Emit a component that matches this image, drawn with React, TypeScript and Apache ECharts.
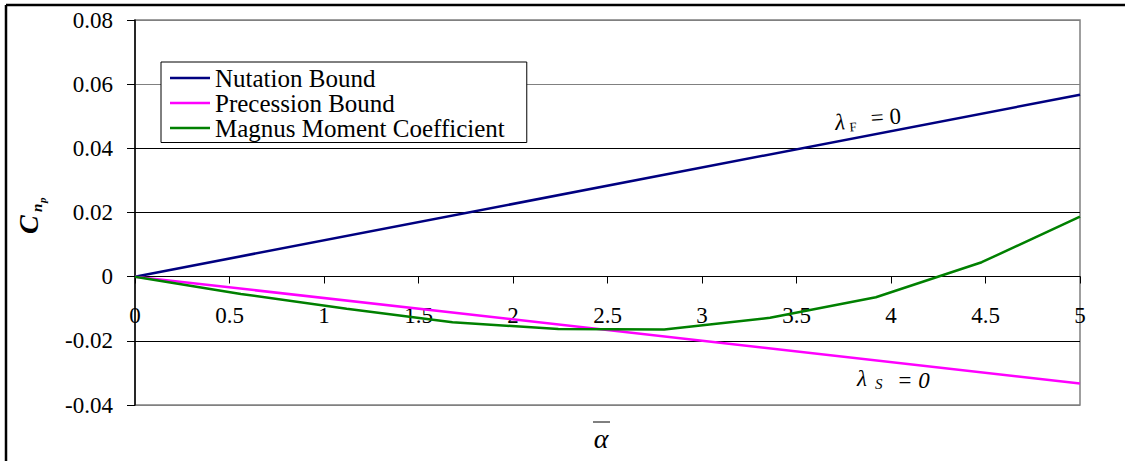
import React, { useEffect, useRef } from "react";
import * as echarts from "echarts";

const alphaMagnus = [0, 0.56, 1.12, 1.68, 2.24, 2.8, 3.36, 3.92, 4.48, 5.0];
const magnusMoment = [0, -0.0054, -0.01, -0.0142, -0.0163, -0.0165, -0.0128, -0.0064, 0.0045, 0.0187];
const alphaBounds = [0, 5];
const nutationBound = [0, 0.0567];
const precessionBound = [0, -0.0333];
const seriesNames = ["Nutation Bound", "Precession Bound", "Magnus Moment Coefficient"];
const seriesColors = ["#000080", "#ff00ff", "#008000"];

const FONT = "Liberation Serif";

const pairs = (xs: number[], ys: number[]) => xs.map((x, i) => [x, ys[i]]);

export default function App() {
  const ref = useRef<HTMLDivElement>(null);
  useEffect(() => {
    if (!ref.current) return;
    const chart = echarts.init(ref.current, undefined, { renderer: "svg" });
    const mk = (i: number, data: number[][]) => ({
      name: seriesNames[i],
      type: "line",
      data,
      symbol: "none",
      showSymbol: false,
      color: seriesColors[i],
      lineStyle: { color: seriesColors[i], width: 2.5 },
    });
    const txt = (text: string, x: number, y: number, size: number, style: string) => ({
      type: "text",
      x,
      y,
      style: {
        text,
        fontFamily: FONT,
        fontSize: size,
        fontStyle: style.includes("italic") ? "italic" : "normal",
        fontWeight: style.includes("bold") ? "bold" : "normal",
        fill: "#000",
        textAlign: "left",
        textVerticalAlign: "middle",
      },
    });
    chart.setOption({
      animation: false,
      backgroundColor: "#fff",
      grid: {
        left: 135,
        right: 45,
        top: 20,
        bottom: 56,
        show: true,
        borderColor: "#808080",
        borderWidth: 1.5,
        backgroundColor: "transparent",
      },
      legend: {
        data: seriesNames,
        orient: "vertical",
        left: 161,
        top: 62,
        icon: "rect",
        itemWidth: 40,
        itemHeight: 2.5,
        itemGap: 0,
        backgroundColor: "#fff",
        borderColor: "#000",
        borderWidth: 1,
        borderRadius: 0,
        padding: [3.5, 22, 2, 9],
        textStyle: { fontFamily: FONT, fontSize: 25, color: "#000", lineHeight: 23.5, height: 23.5 },
      },
      xAxis: {
        type: "value",
        min: 0,
        max: 5,
        interval: 0.5,
        position: "bottom",
        offset: -128.5,
        axisLine: { onZero: false, lineStyle: { color: "#000", width: 1 } },
        axisTick: { show: true, length: 7, lineStyle: { color: "#000" } },
        splitLine: { show: false },
        axisLabel: {
          margin: 27,
          fontFamily: FONT,
          fontSize: 23,
          color: "#000",
          formatter: (v: number) => String(v),
        },
      },
      yAxis: {
        type: "value",
        min: -0.04,
        max: 0.08,
        interval: 0.02,
        axisLine: { show: true, lineStyle: { color: "#000", width: 1.5 } },
        axisTick: { show: true, length: 8, lineStyle: { color: "#000" } },
        splitLine: {
          show: true,
          lineStyle: {
            color: ["#808080", "#000", "#000", "#000", "#000", "#808080", "#808080"],
            width: 1,
          },
        },
        axisLabel: {
          margin: 22,
          fontFamily: FONT,
          fontSize: 23,
          color: "#000",
          formatter: (v: number) => (Math.abs(v) < 1e-9 ? "0" : v.toFixed(2)),
        },
      },
      series: [
        mk(0, pairs(alphaBounds, nutationBound)),
        mk(1, pairs(alphaBounds, precessionBound)),
        mk(2, pairs(alphaMagnus, magnusMoment)),
      ],
      graphic: [
        { type: "line", shape: { x1: 6, y1: 5, x2: 1125, y2: 5 }, style: { stroke: "#000", lineWidth: 2.5 } },
        { type: "line", shape: { x1: 6, y1: 5, x2: 6, y2: 461 }, style: { stroke: "#000", lineWidth: 2.5 } },
        {
          type: "group",
          x: 28,
          y: 234,
          rotation: Math.PI / 2,
          children: [
            txt("C", 0, 0, 28, "italic bold"),
            txt("n", 22, 9, 15, "italic bold"),
            txt("p", 31, 14, 11, "italic bold"),
          ],
        },
        {
          type: "text",
          x: 601,
          y: 438,
          style: {
            text: "α",
            fontFamily: FONT,
            fontSize: 28,
            fontStyle: "italic",
            fill: "#000",
            textAlign: "center",
            textVerticalAlign: "middle",
          },
        },
        { type: "line", shape: { x1: 593, y1: 422, x2: 610, y2: 422 }, style: { stroke: "#000", lineWidth: 1 } },
        {
          type: "group",
          x: 835,
          y: 122,
          rotation: 0.07,
          children: [
            txt("λ", 0, 0, 23, "italic"),
            txt("F", 14, 6, 13, ""),
            txt("= 0", 36, -2, 23, ""),
          ],
        },
        {
          type: "group",
          x: 857,
          y: 378,
          children: [
            txt("λ", 0, 0, 23, "italic"),
            txt("S", 18, 6, 15, "italic"),
            txt("= 0", 40, 2, 23, "italic"),
          ],
        },
      ],
    });
    return () => chart.dispose();
  }, []);
  return (
    <div
      ref={ref}
      style={{ position: "absolute", left: 0, top: 0, width: 1125, height: 461 }}
    />
  );
}
